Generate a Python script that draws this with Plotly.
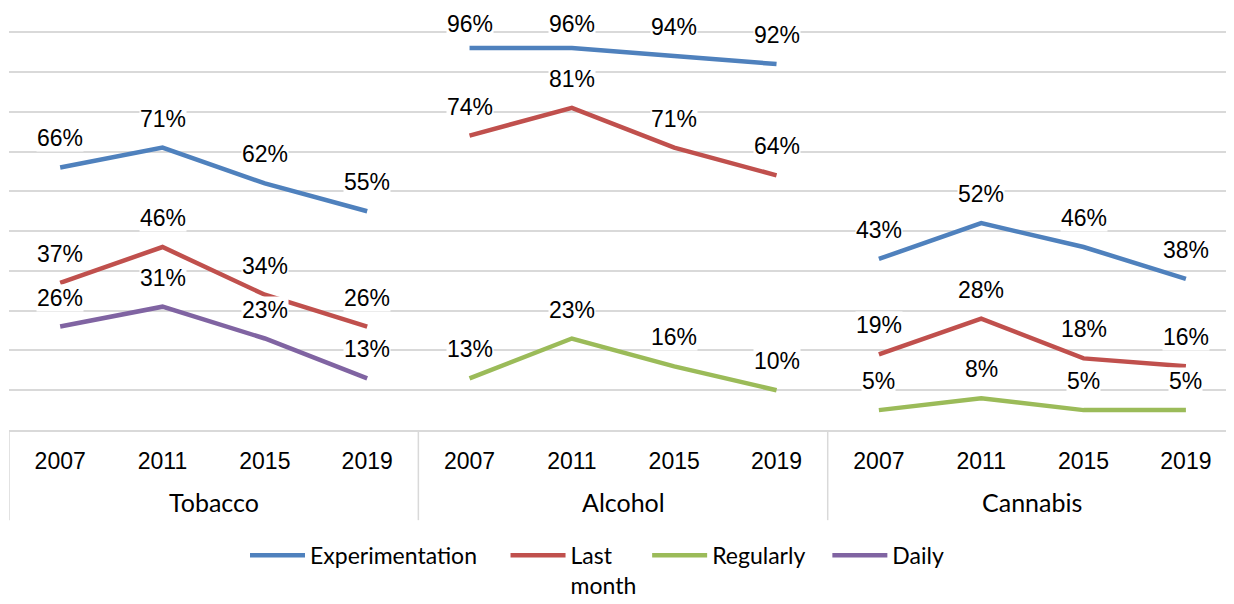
import plotly.graph_objects as go

years = ["2007", "2011", "2015", "2019"]
substances = ["Tobacco", "Alcohol", "Cannabis"]

# one list per substance, None where the series was not measured
experimentation = [[66, 71, 62, 55], [96, 96, 94, 92], [43, 52, 46, 38]]
last_month = [[37, 46, 34, 26], [74, 81, 71, 64], [19, 28, 18, 16]]
regularly = [None, [13, 23, 16, 10], [5, 8, 5, 5]]
daily = [[26, 31, 23, 13], None, None]

series = [
    ("Experimentation\u00a0\u00a0\u00a0\u00a0", experimentation, "#4F81BD"),
    ("Last<br>month\u00a0", last_month, "#C0504D"),
    ("Regularly\u00a0\u00a0\u00a0", regularly, "#9BBB59"),
    ("Daily", daily, "#8064A2"),
]

NUM_FONT = "Liberation Sans, Arial, sans-serif"
TXT_FONT = "Lato, Liberation Sans, sans-serif"

n_years = len(years)
fig = go.Figure()
annotations = []

for name, values, color in series:
    xs, ys = [], []
    for g, group in enumerate(values):
        if group is None:
            continue
        for i, v in enumerate(group):
            x = g * n_years + i
            xs.append(x)
            ys.append(v)
            annotations.append(dict(
                x=x, y=v, xref="x", yref="y",
                text=f"{v}%", showarrow=False,
                # labels near the top are pulled closer so they stay on the page
                yshift=24 if v >= 95 else 29,
                bgcolor="white", borderpad=0,
                font=dict(family=NUM_FONT, size=23, color="black"),
            ))
        # break the line between substances
        xs.append(None)
        ys.append(None)
    fig.add_trace(go.Scatter(
        x=xs, y=ys, name=name, mode="lines",
        line=dict(color=color, width=4.5),
        connectgaps=False,
    ))

# substance labels under the years
for g, sub in enumerate(substances):
    annotations.append(dict(
        x=g * n_years + (n_years - 1) / 2, y=-0.18, xref="x", yref="paper",
        text=sub, showarrow=False, yanchor="middle",
        font=dict(family=TXT_FONT, size=25, color="black"),
    ))

# dividers of the multi-level category axis
shapes = []
for g in range(len(substances)):
    shapes.append(dict(
        type="line", xref="x", yref="paper",
        x0=g * n_years - 0.5, x1=g * n_years - 0.5, y0=0, y1=-0.226,
        line=dict(color="#D9D9D9", width=1.5),
    ))

tick_vals = list(range(n_years * len(substances)))
tick_text = years * len(substances)

# the page body adds an 8px margin, so the figure is 8px smaller
fig.update_layout(
    width=1226, height=596,
    margin=dict(l=1, r=0, t=23, b=174, autoexpand=False),
    paper_bgcolor="white", plot_bgcolor="white",
    showlegend=True,
    legend=dict(
        orientation="h", x=0.48, xanchor="center", y=-0.26, yanchor="top",
        valign="top",
        font=dict(family=TXT_FONT, size=23, color="black"),
        itemwidth=55, tracegroupgap=0,
    ),
    annotations=annotations,
    shapes=shapes,
    xaxis=dict(
        range=[-0.5, 11.47], tickvals=tick_vals, ticktext=tick_text,
        showgrid=False, zeroline=False, showline=True,
        linecolor="#D9D9D9", linewidth=1.5,
        ticks="", ticklabelstandoff=10,
        tickfont=dict(family=NUM_FONT, size=23, color="black"),
    ),
    yaxis=dict(
        range=[0, 100.3], tickvals=list(range(10, 101, 10)),
        showticklabels=False,
        showgrid=True, gridcolor="#D9D9D9", gridwidth=1.5,
        zeroline=False,
    ),
)

fig.write_html("out.html")
